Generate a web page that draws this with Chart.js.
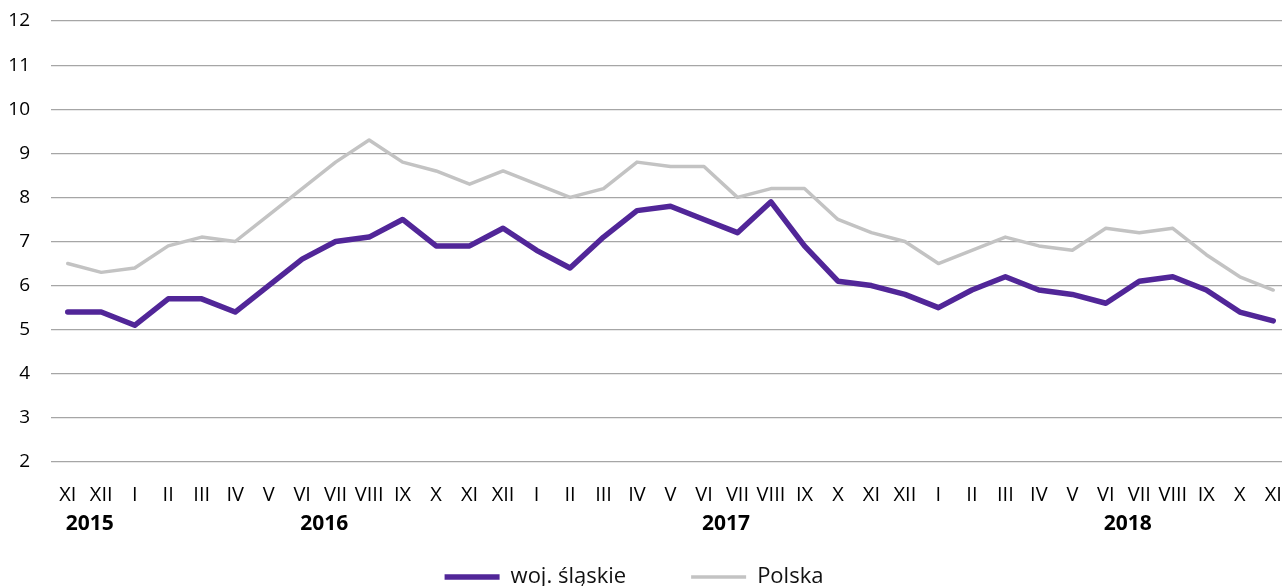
<!DOCTYPE html>
<html>
<head>
<meta charset="utf-8">
<script src="https://cdn.jsdelivr.net/npm/chart.js@4/dist/chart.umd.min.js"></script>
<style>
html,body{margin:0;padding:0;background:#fff;}
#wrap{width:1282px;height:586px;position:relative;}
</style>
</head>
<body>
<div id="wrap"><canvas id="c"></canvas></div>
<script>
const months = ['XI','XII','I','II','III','IV','V','VI','VII','VIII','IX','X','XI','XII','I','II','III','IV','V','VI','VII','VIII','IX','X','XI','XII','I','II','III','IV','V','VI','VII','VIII','IX','X','XI'];
const slaskie = [5.4,5.4,5.1,5.7,5.7,5.4,6.0,6.6,7.0,7.1,7.5,6.9,6.9,7.3,6.8,6.4,7.1,7.7,7.8,7.5,7.2,7.9,6.9,6.1,6.0,5.8,5.5,5.9,6.2,5.9,5.8,5.6,6.1,6.2,5.9,5.4,5.2];
const polska = [6.5,6.3,6.4,6.9,7.1,7.0,7.6,8.2,8.8,9.3,8.8,8.6,8.3,8.6,8.3,8.0,8.2,8.8,8.7,8.7,8.0,8.2,8.2,7.5,7.2,7.0,6.5,6.8,7.1,6.9,6.8,7.3,7.2,7.3,6.7,6.2,5.9];
const years = ['2015','2016','2017','2018'];
const yearAnchors = [0,7,19,31];
const seriesNames = ['woj. śląskie','Polska'];

const FONT = "'Open Sans', 'DejaVu Sans', sans-serif";
const LEGEND_PAD = 65;
const LEGEND_FONT = 22;
const LEGEND_BOX_H = 40;
const EXTEND_RIGHT = 8;

const yearPlugin = {
  id: 'yearLabels',
  afterInit(chart) {
    const lg = chart.legend;
    if (lg) {
      const orig = lg.fit;
      lg.fit = function () { orig.call(this); this.height = LEGEND_BOX_H; };
    }
  },
  afterLayout(chart) {
    const lg = chart.legend;
    if (lg) {
      lg.top = 577 - LEGEND_PAD - LEGEND_FONT / 2;
      lg.bottom = chart.height;
      lg.left -= 7;
      lg.right -= 7;
    }
    const xs = chart.scales.x;
    if (xs) {
      xs.right = xs.right + EXTEND_RIGHT;
      xs.width = xs.right - xs.left;
      xs.configure();
      chart.chartArea.right += EXTEND_RIGHT;
      chart.chartArea.width += EXTEND_RIGHT;
    }
  },
  afterDraw(chart) {
    const ctx = chart.ctx;
    const xs = chart.scales.x;
    ctx.save();
    ctx.font = "bold 21px " + FONT;
    ctx.fillStyle = '#000';
    ctx.textAlign = 'left';
    ctx.textBaseline = 'middle';
    years.forEach((y, i) => {
      const px = xs.getPixelForValue(yearAnchors[i]);
      ctx.fillText(y, px - 2, 524);
    });
    ctx.restore();
  }
};

new Chart(document.getElementById('c'), {
  type: 'line',
  data: {
    labels: months,
    datasets: [
      {label: seriesNames[0], data: slaskie, borderColor: '#512698', backgroundColor: '#512698', borderWidth: 5.5, pointRadius: 0, tension: 0, borderCapStyle: 'round', borderJoinStyle: 'round'},
      {label: seriesNames[1], data: polska, borderColor: '#c3c3c3', backgroundColor: '#c3c3c3', borderWidth: 3.5, pointRadius: 0, tension: 0, borderCapStyle: 'round', borderJoinStyle: 'round'}
    ]
  },
  options: {
    responsive: true,
    maintainAspectRatio: false,
    animation: false,
    layout: {padding: {top: 21, right: 0, left: 0, bottom: 0}},
    plugins: {
      tooltip: {enabled: false},
      legend: {
        position: 'bottom',
        labels: {
          usePointStyle: true,
          pointStyle: 'line',
          pointStyleWidth: 55,
          boxHeight: 6,
          padding: LEGEND_PAD,
          color: '#111',
          font: {family: FONT, size: LEGEND_FONT}
        }
      }
    },
    scales: {
      x: {
        offset: true,
        grid: {display: true, drawOnChartArea: false, drawTicks: true, tickLength: 21, tickColor: 'rgba(0,0,0,0)'},
        border: {display: false},
        ticks: {color: '#000', font: {family: FONT, size: 20}, padding: 0, maxRotation: 0, autoSkip: false},
        afterFit(s) {
          s.height = Math.max(0, s.chart.height - 462 - LEGEND_BOX_H);
        }
      },
      y: {
        min: 2, max: 12,
        grid: {color: '#a6a6a6', lineWidth: 1.2, drawTicks: true, tickLength: 21, tickColor: 'rgba(0,0,0,0)'},
        border: {display: false},
        ticks: {stepSize: 1, color: '#000', font: {family: FONT, size: 19}, padding: 0},
        afterFit(s) { s.width = 51; }
      }
    }
  },
  plugins: [yearPlugin]
});
</script>
</body>
</html>
